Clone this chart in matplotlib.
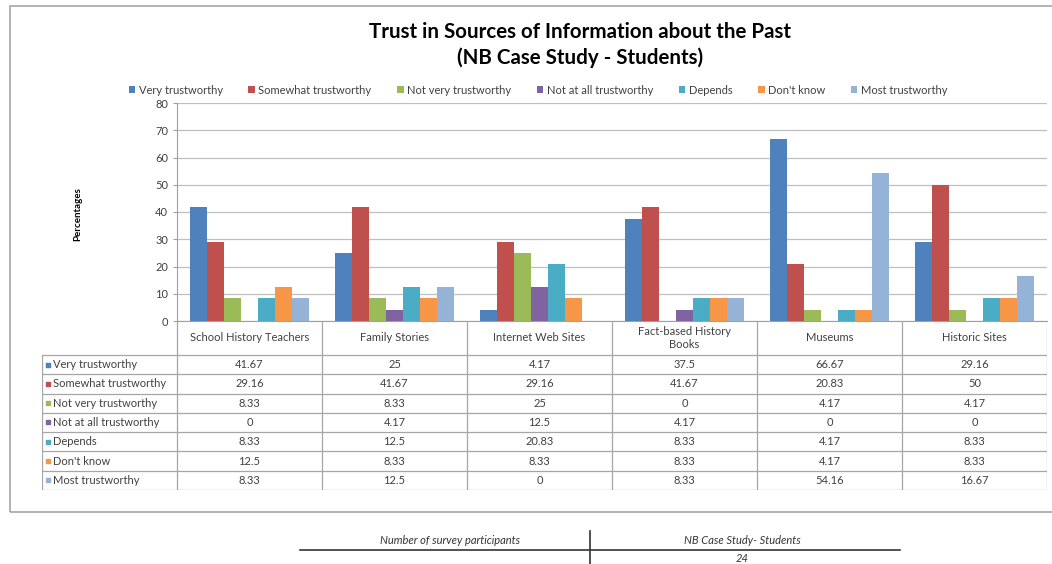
import numpy as np
import matplotlib
matplotlib.use("Agg")
import matplotlib.pyplot as plt
from matplotlib.patches import Rectangle

plt.rcParams['font.family'] = ['Lato', 'DejaVu Sans']

# data
categories = ["School History Teachers", "Family Stories", "Internet Web Sites",
              "Fact-based History\nBooks", "Museums", "Historic Sites"]
series = ["Very trustworthy", "Somewhat trustworthy", "Not very trustworthy",
          "Not at all trustworthy", "Depends", "Don't know", "Most trustworthy"]
very = [41.67, 25, 4.17, 37.5, 66.67, 29.16]
somewhat = [29.16, 41.67, 29.16, 41.67, 20.83, 50]
not_very = [8.33, 8.33, 25, 0, 4.17, 4.17]
not_at_all = [0, 4.17, 12.5, 4.17, 0, 0]
depends = [8.33, 12.5, 20.83, 8.33, 4.17, 8.33]
dont_know = [12.5, 8.33, 8.33, 8.33, 4.17, 8.33]
most = [8.33, 12.5, 0, 8.33, 54.16, 16.67]
values = [very, somewhat, not_very, not_at_all, depends, dont_know, most]
colors = ["#4F81BD", "#C0504D", "#9BBB59", "#8064A2", "#4BACC6", "#F79646", "#95B3D7"]
yticks = list(range(0, 81, 10))
participants_label = "Number of survey participants"
group_label = "NB Case Study- Students"
participants = 24

W, H = 1052, 564


def box(x0, y0, x1, y1):
    # pixel box -> figure fraction
    return [x0 / W, 1 - y1 / H, (x1 - x0) / W, (y1 - y0) / H]


fig = plt.figure(figsize=(W / 100, H / 100), dpi=100)

# outer chart frame
fig.patches.append(Rectangle((10 / W, 1 - 512 / H), 1.1, (512 - 6) / H,
                             transform=fig.transFigure, fill=False,
                             edgecolor="#A6A6A6", lw=1.2))

# title
fig.text(580 / W, 1 - 32 / H, "Trust in Sources of Information about the Past",
         ha="center", va="center", fontsize=14.8, fontweight="bold")
fig.text(580 / W, 1 - 58 / H, "(NB Case Study - Students)",
         ha="center", va="center", fontsize=14.8, fontweight="bold")

# bar chart
ax = fig.add_axes(box(177, 103, 1047, 321))
n = len(series)
width = 1 / 8.5
x = np.arange(len(categories)) + 0.5
for i, (name, vals) in enumerate(zip(series, values)):
    ax.bar(x + (i - (n - 1) / 2) * width, vals, width, color=colors[i], label=name, zorder=3)
ax.set_xlim(0, len(categories))
ax.set_ylim(0, 80)
ax.set_yticks(yticks)
ax.set_xticks([])
ax.tick_params(axis="y", labelsize=8, length=3, color="#A0A0A0", labelcolor="#404040")
ax.grid(axis="y", color="#BFBFBF", lw=0.9, zorder=0)
for s in ["top", "right"]:
    ax.spines[s].set_visible(False)
ax.spines["left"].set_color("#A0A0A0")
ax.spines["bottom"].set_color("#A0A0A0")
fig.text(78 / W, 1 - 214 / H, "Percentages", rotation=90, ha="center", va="center",
         fontsize=7, fontweight="bold")

# legend
handles, labels = ax.get_legend_handles_labels()
fig.legend(handles, labels, loc="center", bbox_to_anchor=(538 / W, 1 - 90 / H), ncol=7,
           frameon=False, fontsize=8, handlelength=0.6, handleheight=0.6,
           handletextpad=0.3, columnspacing=2.3, labelcolor="#404040")

# data table
hh = 34 / 19.3
key_w = (177 - 42) / 145
tab = fig.add_axes(box(42, 321, 1047, 490))
tab.set_xlim(-key_w, len(categories))
tab.set_ylim(hh + n, 0)
tab.axis("off")
lc = "#A6A6A6"
for j in range(len(categories) + 1):
    tab.plot([j, j], [0, hh + n], color=lc, lw=0.9)
tab.plot([-key_w, -key_w], [hh, hh + n], color=lc, lw=0.9)
for i in range(n + 1):
    tab.plot([-key_w, len(categories)], [hh + i, hh + i], color=lc, lw=0.9)
for j, cat in enumerate(categories):
    tab.text(j + 0.5, hh / 2, cat, ha="center", va="center", fontsize=8, color="#404040",
             linespacing=1.2)
for i, (name, vals) in enumerate(zip(series, values)):
    yy = hh + i + 0.5
    tab.scatter([-key_w + 0.04], [yy], marker="s", s=10, color=colors[i])
    tab.text(-key_w + 0.075, yy, name, ha="left", va="center", fontsize=8, color="#404040")
    for j, v in enumerate(vals):
        tab.text(j + 0.5, yy, f"{v:g}", ha="center", va="center", fontsize=8, color="#404040")

# participants note
fig.add_artist(plt.Line2D([300 / W, 900 / W], [1 - 550 / H, 1 - 550 / H], color="#333333", lw=1.2))
fig.add_artist(plt.Line2D([590 / W, 590 / W], [1 - 531 / H, 0], color="#333333", lw=1.2))
fig.text(450 / W, 1 - 541 / H, participants_label, ha="center", va="center",
         fontsize=8, style="italic", color="#333333")
fig.text(742 / W, 1 - 541 / H, group_label, ha="center", va="center",
         fontsize=8, style="italic", color="#333333")
fig.text(742 / W, 1 - 558 / H, str(participants), ha="center", va="center",
         fontsize=8, style="italic", color="#333333")

fig.savefig("out.png", dpi=100)
